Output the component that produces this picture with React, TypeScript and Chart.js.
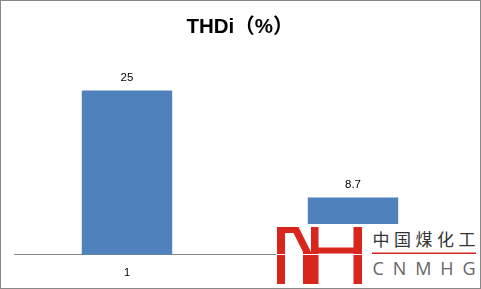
import React, { useEffect, useRef } from "react";
import { Chart, registerables } from "chart.js";

Chart.register(...registerables);

const categories = ["1", "2"];
const values = [25, 8.7];
const titleText = "THDi（%）";
const yMin = 0;
const yMax = 30;
const logoCn = "中国煤化工";
const logoEn = "CNMHG";

const barColor = "#4F81BD";
const axisColor = "#888888";
const logoRed = "#D9261C";

const valueLabelPlugin = {
  id: "valueLabels",
  afterDatasetsDraw(chart: any) {
    const ctx = chart.ctx;
    const meta = chart.getDatasetMeta(0);
    ctx.save();
    ctx.font = '11.5px "Liberation Sans", Arial, sans-serif';
    ctx.fillStyle = "#000000";
    ctx.textAlign = "center";
    ctx.textBaseline = "middle";
    meta.data.forEach((el: any, i: number) => {
      const v = chart.data.datasets[0].data[i];
      ctx.fillText(String(v), el.x, el.y - 12.5);
    });
    ctx.restore();
  },
};

export default function App() {
  const canvasRef = useRef<HTMLCanvasElement | null>(null);

  useEffect(() => {
    if (!canvasRef.current) return;
    const chart = new Chart(canvasRef.current, {
      type: "bar",
      data: {
        labels: categories,
        datasets: [
          {
            data: values,
            backgroundColor: barColor,
            borderWidth: 0,
            barPercentage: 0.4,
            categoryPercentage: 1,
          },
        ],
      },
      options: {
        responsive: false,
        animation: false,
        devicePixelRatio: 1,
        layout: { padding: { left: 14, right: 15, top: 0, bottom: -3 } },
        plugins: {
          legend: { display: false },
          tooltip: { enabled: false },
          title: {
            display: true,
            text: titleText,
            color: "#000000",
            font: {
              size: 20.5,
              weight: "bold",
              family: '"Liberation Sans", "Noto Sans CJK SC", sans-serif',
            },
            padding: { top: 15, bottom: 18 },
          },
        },
        scales: {
          x: {
            grid: { display: false, drawTicks: false },
            border: { display: true, color: axisColor, width: 1 },
            ticks: {
              color: "#000000",
              padding: 12,
              font: { size: 11, family: '"Liberation Sans", Arial, sans-serif' },
            },
          },
          y: {
            display: false,
            min: yMin,
            max: yMax,
          },
        },
      },
      plugins: [valueLabelPlugin],
    });
    return () => chart.destroy();
  }, []);

  return (
    <div style={{ position: "absolute", left: 0, top: 0, width: 481, height: 289, background: "#fff" }}>
      <canvas ref={canvasRef} width={481} height={289} style={{ display: "block" }} />
      <svg
        width={481}
        height={289}
        style={{ position: "absolute", left: 0, top: 0, pointerEvents: "none" }}
      >
        <rect x={276} y={224} width={203} height={64} fill="#ffffff" />
        <g fill={logoRed}>
          <rect x={277} y={227} width={8} height={57} />
          <rect x={277} y={227} width={20} height={6} />
          <polygon points="290.5,227 298.5,227 311,252 303,252" />
          <rect x={303} y={252} width={8} height={32} />
          <rect x={311} y={227} width={7.5} height={57} />
          <rect x={353.5} y={227} width={8.5} height={57} />
          <rect x={318} y={247.5} width={36} height={6} />
        </g>
        <rect x={276} y={254} width={87} height={1} fill="#ffffff" />
        <text
          x={372.5}
          y={245.5}
          fontFamily='"Noto Sans CJK SC", sans-serif'
          fontSize={17}
          fill="#333333"
          textLength={103}
          lengthAdjust="spacing"
        >
          {logoCn}
        </text>
        <rect x={372} y={252.5} width={104} height={1.5} fill={logoRed} />
        <text
          x={372.5}
          y={275}
          fontFamily='"Open Sans", "Liberation Sans", sans-serif'
          fontSize={18}
          fill="#666666"
          textLength={103}
          lengthAdjust="spacing"
        >
          {logoEn}
        </text>
      </svg>
      <div
        style={{
          position: "absolute",
          left: 0,
          top: 0,
          width: 481,
          height: 289,
          boxSizing: "border-box",
          border: `1px solid ${axisColor}`,
          pointerEvents: "none",
        }}
      />
    </div>
  );
}
